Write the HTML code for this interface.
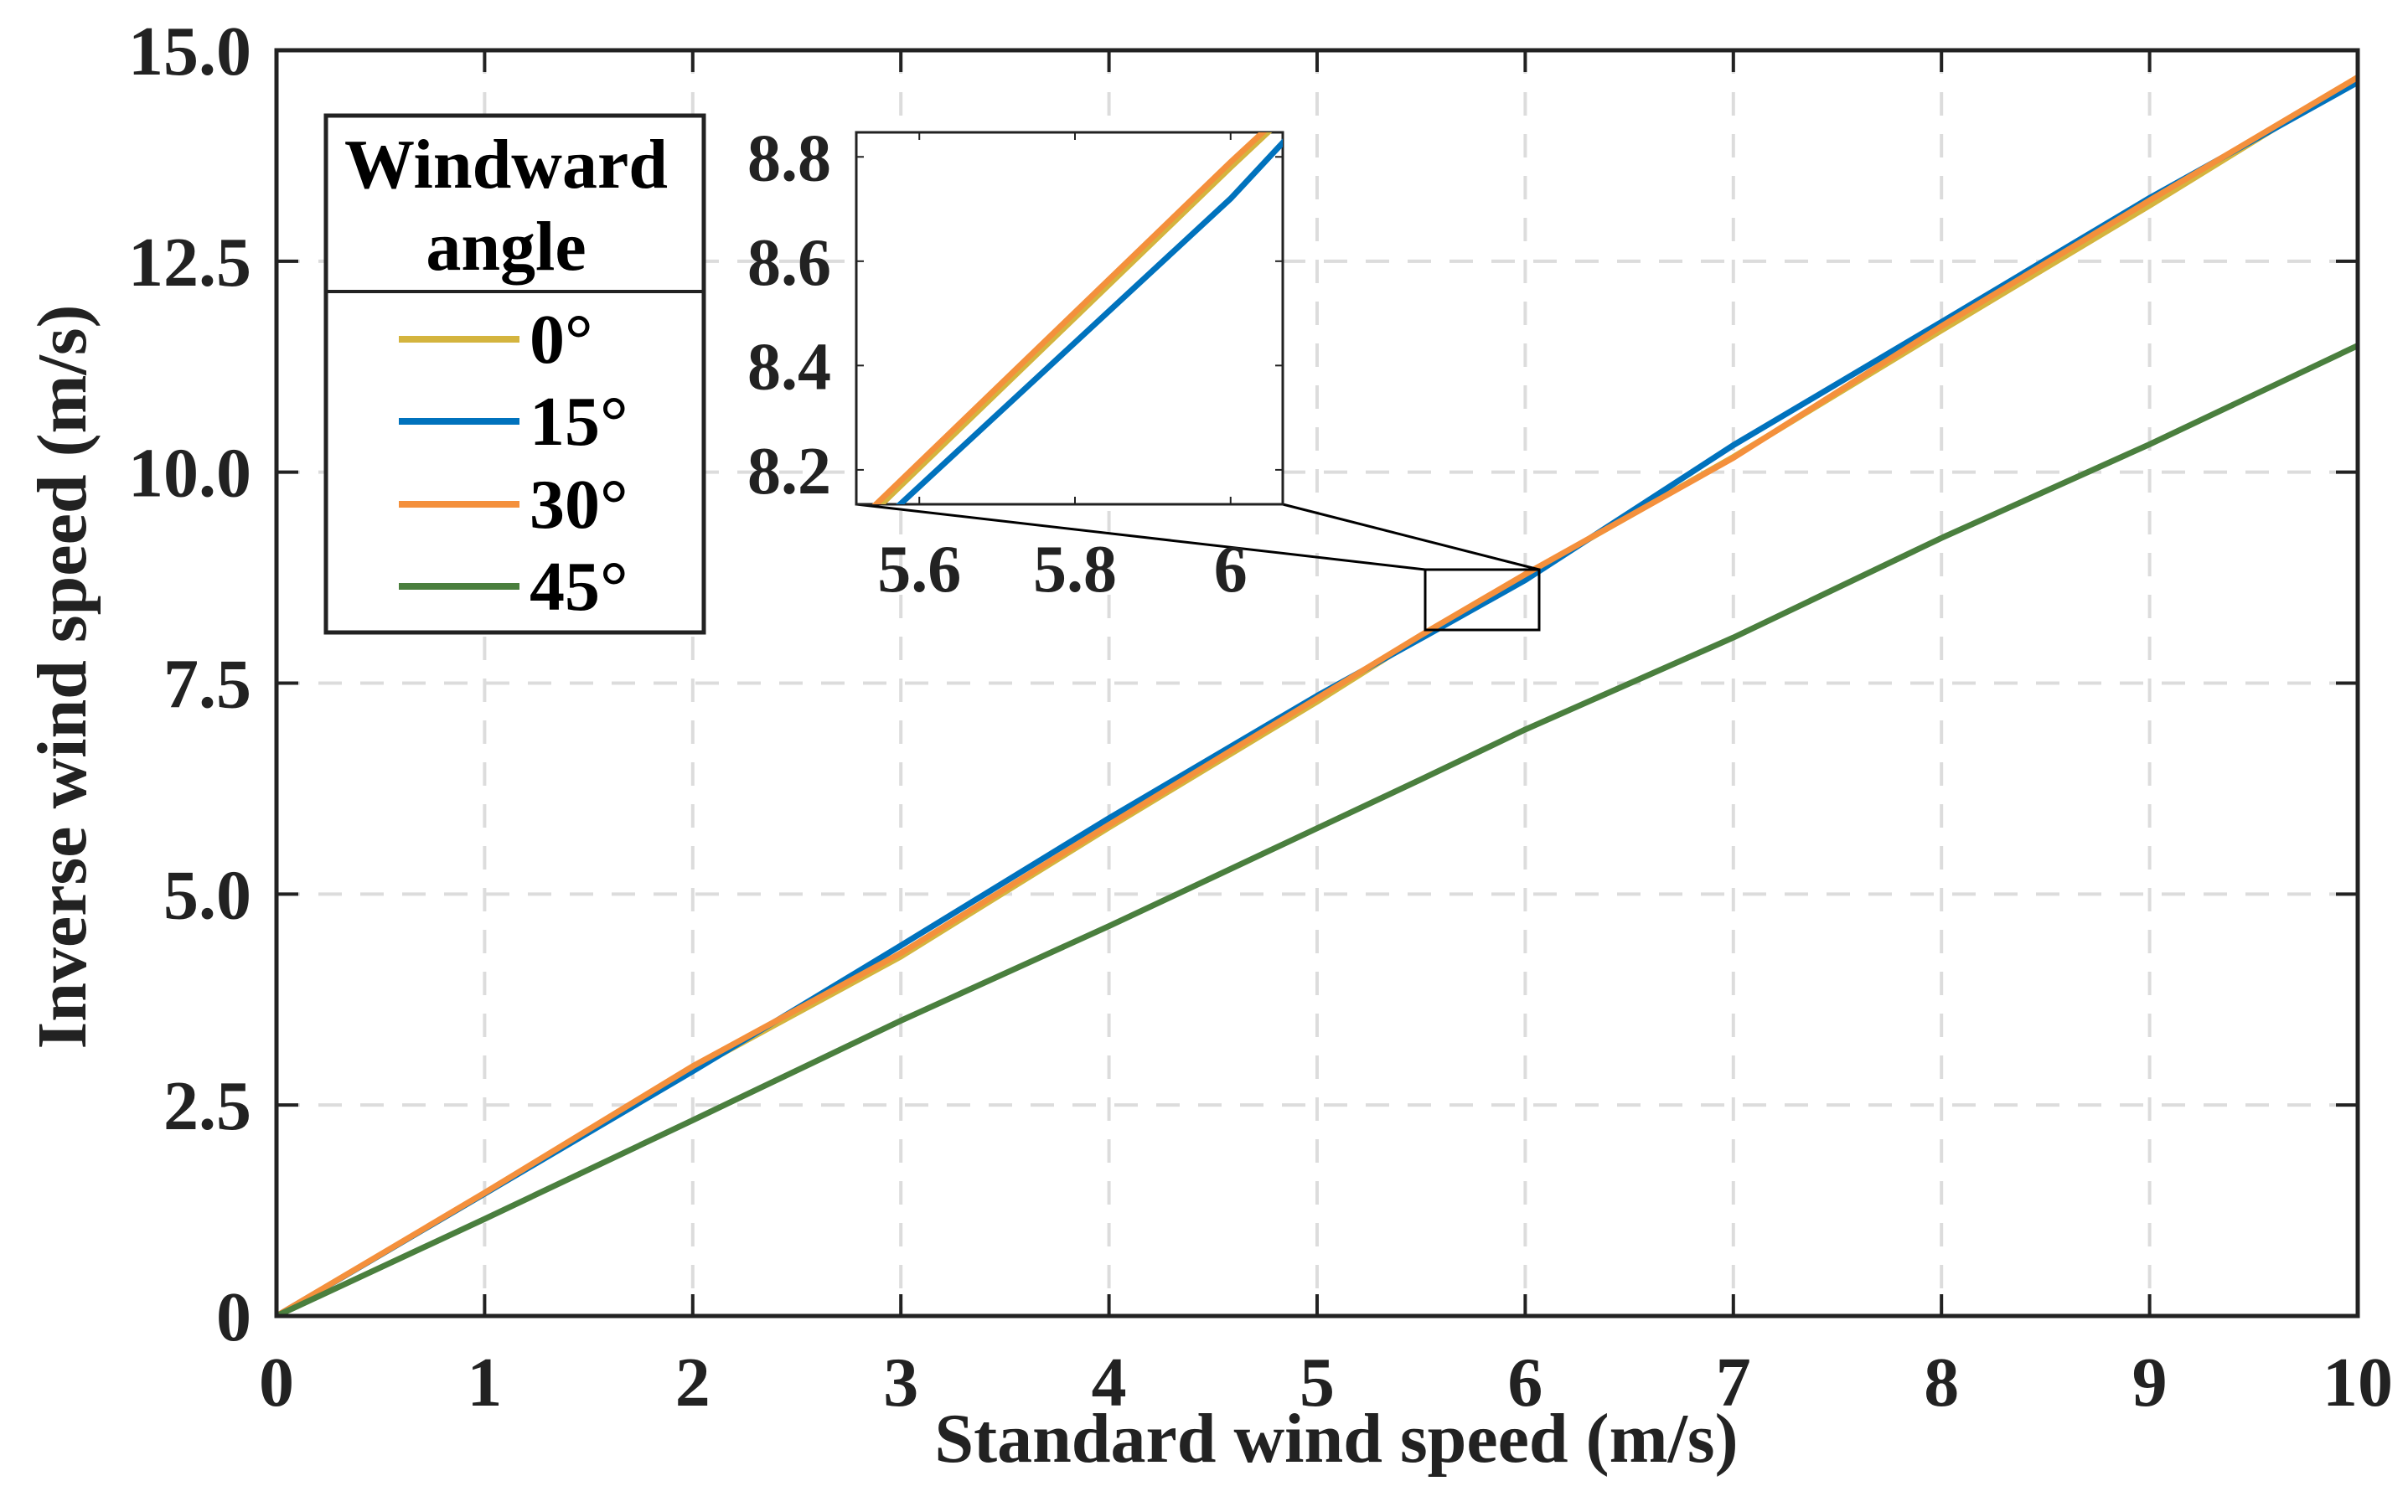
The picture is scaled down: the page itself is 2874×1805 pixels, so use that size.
<!DOCTYPE html>
<html><head><meta charset="utf-8"><style>
html,body{margin:0;padding:0;background:#fff;width:2874px;height:1805px;overflow:hidden;position:relative;}
svg{position:absolute;left:0;top:0;display:block;overflow:hidden;font-family:"Liberation Serif",serif;font-weight:bold;}
</style></head><body>
<svg id="chart" width="2874" height="1805" viewBox="0 0 2874 1805" xmlns="http://www.w3.org/2000/svg">
<defs>
<clipPath id="mainClip"><rect x="330" y="60" width="2484" height="1511"/></clipPath>
<clipPath id="insetClip"><rect x="1022" y="158" width="509" height="444"/></clipPath>
</defs>
<g id="grid"></g>
<g id="series" clip-path="url(#mainClip)"></g>
<g id="axes"></g>
<rect x="1701" y="680" width="136" height="72" fill="none" stroke="#000" stroke-width="3"/>
<line x1="1022" y1="602" x2="1701" y2="680" stroke="#000" stroke-width="3"/>
<line x1="1531" y1="602" x2="1837" y2="680" stroke="#000" stroke-width="3"/>
<g id="inset"></g>
<text x="1595" y="1745" font-size="84" text-anchor="middle" fill="#222">Standard wind speed (m/s)</text>
<text transform="translate(102,808) rotate(-90)" font-size="84" text-anchor="middle" fill="#222">Inverse wind speed (m/s)</text>
<g>
<rect x="389" y="138" width="451" height="617" fill="#fff" stroke="#222" stroke-width="5"/>
<line x1="389" y1="348" x2="840" y2="348" stroke="#222" stroke-width="4"/>
<text x="604" y="224" font-size="84" text-anchor="middle" fill="#000">Windward</text>
<text x="604" y="322" font-size="84" text-anchor="middle" fill="#000">angle</text>
<g><line x1="476" y1="405" x2="620" y2="405" stroke="#D4B43E" stroke-width="8"/><text x="632" y="433" font-size="84" fill="#000">0°</text></g>
<g><line x1="476" y1="503" x2="620" y2="503" stroke="#0072BD" stroke-width="8"/><text x="632" y="531" font-size="84" fill="#000">15°</text></g>
<g><line x1="476" y1="602" x2="620" y2="602" stroke="#F4903C" stroke-width="8"/><text x="632" y="630" font-size="84" fill="#000">30°</text></g>
<g><line x1="476" y1="700" x2="620" y2="700" stroke="#4A7F3E" stroke-width="8"/><text x="632" y="728" font-size="84" fill="#000">45°</text></g>
</g>
</svg>
<script>
const xs = [0,1,2,3,4,5,5.5,6,7,8,9,10];
const s0 = [0,1.45,2.92,4.26,5.79,7.28,8.06,8.78,10.18,11.68,13.16,14.68];
const s15 = [0,1.45,2.9,4.39,5.9,7.35,8.03,8.72,10.32,11.78,13.25,14.62];
const s30 = [0,1.46,2.96,4.3,5.82,7.32,8.07,8.79,10.17,11.73,13.22,14.68];
const s45 = [0,1.15,2.32,3.5,4.62,5.78,6.36,6.95,8.04,9.22,10.33,11.5];
const xTicks = [0,1,2,3,4,5,6,7,8,9,10];
const yTicks = [0,2.5,5,7.5,10,12.5,15];
const yTickLabels = ["0","2.5","5.0","7.5","10.0","12.5","15.0"];
const insetXTicks = [5.6,5.8,6];
const insetYTicks = [8.2,8.4,8.6,8.8];

const NS="http://www.w3.org/2000/svg";
function mk(tag,attrs,parent){const e=document.createElementNS(NS,tag);for(const k in attrs)e.setAttribute(k,attrs[k]);parent.appendChild(e);return e;}
const X0=330,X1=2814,Y0=1571,Y1=60;
const sx=v=>X0+(v-0)/10*(X1-X0);
const sy=v=>Y0-(v-0)/15*(Y0-Y1);
const IX0=1022,IX1=1531,IY0=602,IY1=158,ixMin=5.519,ixMax=6.067,iyMin=8.134,iyMax=8.847;
const isx=v=>IX0+(v-ixMin)/(ixMax-ixMin)*(IX1-IX0);
const isy=v=>IY0-(v-iyMin)/(iyMax-iyMin)*(IY0-IY1);

const grid=document.getElementById('grid');
xTicks.forEach(t=>{if(t>0&&t<10){const l=mk('line',{x1:sx(t),x2:sx(t),y1:Y1,y2:Y0,stroke:'#dcdcdc','stroke-width':4,'stroke-dasharray':'28,22'},grid);

}});
yTicks.forEach(t=>{if(t>0&&t<15){const l=mk('line',{x1:X0,x2:X1,y1:sy(t),y2:sy(t),stroke:'#dcdcdc','stroke-width':4,'stroke-dasharray':'28,22'},grid);

}});

const series=[[s0,'#D4B43E','series-0deg'],[s15,'#0072BD','series-15deg'],[s30,'#F4903C','series-30deg'],[s45,'#4A7F3E','series-45deg']];
const sg=document.getElementById('series');
series.forEach(([d,c,n])=>{const p=mk('polyline',{points:xs.map((x,i)=>sx(x)+','+sy(d[i])).join(' '),fill:'none',stroke:c,'stroke-width':7,'stroke-linejoin':'round'},sg);

});

const ax=document.getElementById('axes');
mk('rect',{x:X0,y:Y1,width:X1-X0,height:Y0-Y1,fill:'none',stroke:'#222','stroke-width':5},ax);
xTicks.forEach(t=>{mk('line',{x1:sx(t),x2:sx(t),y1:Y0,y2:Y0-26,stroke:'#222','stroke-width':4},ax);
mk('line',{x1:sx(t),x2:sx(t),y1:Y1,y2:Y1+26,stroke:'#222','stroke-width':4},ax);
const tx=mk('text',{x:sx(t),y:1678,'font-size':84,'text-anchor':'middle',fill:'#222'},ax);tx.textContent=t;

});
yTicks.forEach((t,i)=>{mk('line',{x1:X0,x2:X0+26,y1:sy(t),y2:sy(t),stroke:'#222','stroke-width':4},ax);
mk('line',{x1:X1,x2:X1-26,y1:sy(t),y2:sy(t),stroke:'#222','stroke-width':4},ax);
const tx=mk('text',{x:300,y:sy(t)+29,'font-size':84,'text-anchor':'end',fill:'#222'},ax);tx.textContent=yTickLabels[i];

});

const ig=document.getElementById('inset');
mk('rect',{x:IX0,y:IY1,width:IX1-IX0,height:IY0-IY1,fill:'#fff',stroke:'#222','stroke-width':3},ig);
const il=mk('g',{'clip-path':'url(#insetClip)'},ig);
series.slice(0,3).forEach(([d,c,n])=>{const p=mk('polyline',{points:xs.map((x,i)=>isx(x)+','+isy(d[i])).join(' '),fill:'none',stroke:c,'stroke-width':7},il);

});
insetXTicks.forEach(t=>{mk('line',{x1:isx(t),x2:isx(t),y1:IY0,y2:IY0-9,stroke:'#222','stroke-width':2},ig);
mk('line',{x1:isx(t),x2:isx(t),y1:IY1,y2:IY1+9,stroke:'#222','stroke-width':2},ig);
const tx=mk('text',{x:isx(t),y:706,'font-size':80,'text-anchor':'middle',fill:'#222'},ig);tx.textContent=t;

});
insetYTicks.forEach(t=>{mk('line',{x1:IX0,x2:IX0+9,y1:isy(t),y2:isy(t),stroke:'#222','stroke-width':2},ig);
mk('line',{x1:IX1,x2:IX1-9,y1:isy(t),y2:isy(t),stroke:'#222','stroke-width':2},ig);
const tx=mk('text',{x:992,y:isy(t)+28,'font-size':80,'text-anchor':'end',fill:'#222'},ig);tx.textContent=t.toFixed(1);

});
</script>
</body></html>
